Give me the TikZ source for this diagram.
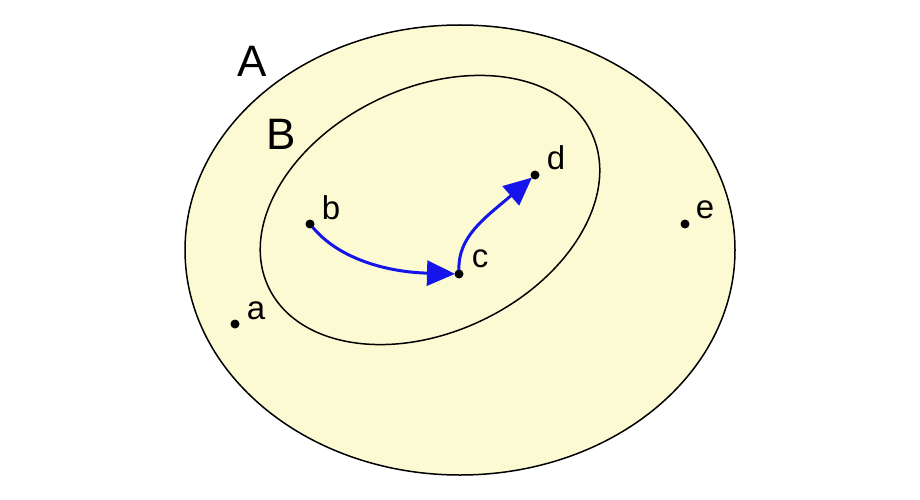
\documentclass[tikz,border=0pt]{standalone}
\usepackage{fontspec}
\setmainfont{Liberation Sans}
\usetikzlibrary{arrows.meta}
\definecolor{setfill}{RGB}{251,250,211}
\definecolor{arrowblue}{RGB}{20,20,235}
\begin{document}
\begin{tikzpicture}[x=1pt,y=-1pt,
  dot/.style={circle,fill=black,inner sep=0pt,minimum size=9pt},
  lbl/.style={font=\fontsize{33}{33}\selectfont,inner sep=0pt},
  biglbl/.style={font=\fontsize{44}{44}\selectfont,inner sep=0pt},
  region/.style={draw=black,line width=1.5pt,fill=setfill},
  flow/.style={draw=arrowblue,line width=3pt,-{Triangle[length=28pt,width=25pt]},shorten <=4pt,shorten >=4pt}]
\useasboundingbox (0,0) rectangle (920,500);
\fill[white] (0,0) rectangle (920,500);
\draw[region] (460,250) ellipse [x radius=275, y radius=225];
\draw[region, rotate around={25.7:(430,210)}] (430,210) ellipse [x radius=179, y radius=122];
\node[dot] (a) at (235,324) {};
\node[dot] (b) at (310,224) {};
\node[dot] (c) at (459,274) {};
\node[dot] (d) at (535,175) {};
\node[dot] (e) at (685,224) {};
\node[biglbl] (lA) at (252,61) {A};
\node[biglbl] (lB) at (281,134) {B};
\node[lbl] (la) at (256,311) {a};
\node[lbl] (lb) at (331,208) {b};
\node[lbl] (lc) at (480,259) {c};
\node[lbl] (ld) at (556,158) {d};
\node[lbl] (le) at (705,210) {e};
\draw[flow] (b.center) .. controls (338,258) and (385,272) .. (c.center);
\draw[flow] (c.center) .. controls (458,236) and (485,218) .. (d.center);
\end{tikzpicture}
\end{document}
